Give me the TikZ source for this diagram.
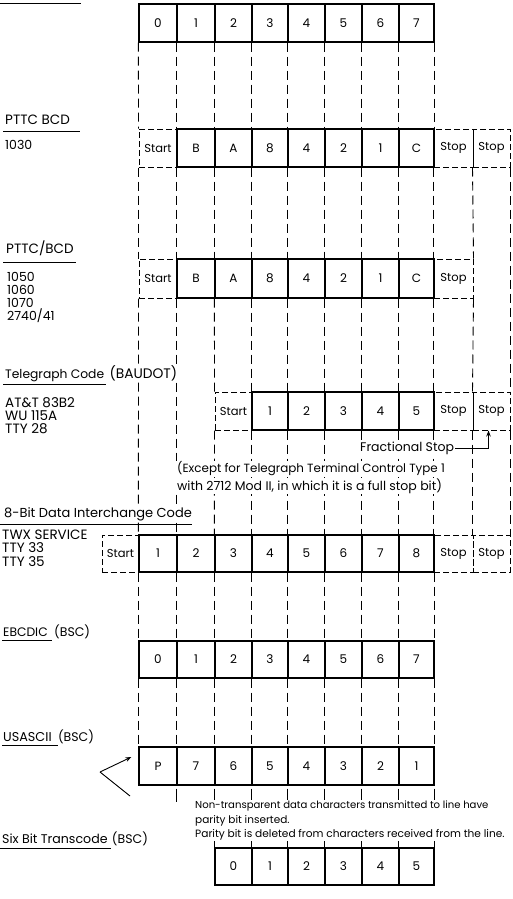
\documentclass[tikz,border=0pt]{standalone}
\usepackage{fontspec}
\setmainfont{Poppins}
\usetikzlibrary{arrows.meta,calc}
\newcommand\fsz[1]{\fontsize{#1}{#1}\selectfont}
\newcommand\mycell[7]{%
  \pgfmathsetmacro\cw{#4-#3}\pgfmathsetmacro\ch{#6-#5}%
  \node[#1, minimum width=\cw pt, minimum height=\ch pt] (#2) at ({(#3+#4)/2},{(#5+#6)/2}) {#7};}
\tikzset{
  cell/.style={draw, line width=1.2pt, inner sep=0pt, font=\fsz{12}},
  dcell/.style={draw, line width=1pt, dash pattern=on 6pt off 3pt, inner sep=0pt, font=\fsz{11.5}},
  guide/.style={line width=0.9pt, dash pattern=on 9pt off 5pt},
  short/.style={line width=0.9pt},
  lbl/.style={anchor=west, inner sep=0pt, font=\fsz{13.5}},
  num/.style={anchor=west, inner sep=0pt, font=\fsz{12.5}},
  note/.style={anchor=west, inner sep=1pt, fill=white, font=\fsz{12.5}},
  uline/.style={line width=0.9pt},
  tip/.style={-{Stealth[length=6pt,width=4.5pt]}, line width=0.9pt}
}
\begin{document}
\begin{tikzpicture}[x=1pt,y=-1pt]
\useasboundingbox (0,0) rectangle (512,899);
% boundaries
\def\bA{102}\def\bB{139}\def\bC{177}\def\bD{215}\def\bE{252}\def\bF{288}
\def\bG{325}\def\bH{362}\def\bI{399}\def\bJ{434}\def\bK{473}\def\bL{510}
% ---------- top row
\mycell{cell}{T1}{\bB}{\bC}{4}{42}{0}
\mycell{cell}{T2}{\bC}{\bD}{4}{42}{1}
\mycell{cell}{T3}{\bD}{\bE}{4}{42}{2}
\mycell{cell}{T4}{\bE}{\bF}{4}{42}{3}
\mycell{cell}{T5}{\bF}{\bG}{4}{42}{4}
\mycell{cell}{T6}{\bG}{\bH}{4}{42}{5}
\mycell{cell}{T7}{\bH}{\bI}{4}{42}{6}
\mycell{cell}{T8}{\bI}{\bJ}{4}{42}{7}
% ---------- PTTC BCD 1030
\mycell{dcell}{A1}{\bB}{\bC}{129}{167}{Start}
\mycell{dcell}{A9}{\bJ}{\bK}{129}{167}{Stop}
\mycell{dcell}{A10}{\bK}{\bL}{129}{167}{Stop}
\mycell{cell}{A2}{\bC}{\bD}{129}{167}{B}
\mycell{cell}{A3}{\bD}{\bE}{129}{167}{A}
\mycell{cell}{A4}{\bE}{\bF}{129}{167}{8}
\mycell{cell}{A5}{\bF}{\bG}{129}{167}{4}
\mycell{cell}{A6}{\bG}{\bH}{129}{167}{2}
\mycell{cell}{A7}{\bH}{\bI}{129}{167}{1}
\mycell{cell}{A8}{\bI}{\bJ}{129}{167}{C}
% ---------- PTTC/BCD
\mycell{dcell}{B1}{\bB}{\bC}{259}{298}{Start}
\mycell{dcell}{B9}{\bJ}{\bK}{259}{298}{Stop}
\mycell{cell}{B2}{\bC}{\bD}{259}{298}{B}
\mycell{cell}{B3}{\bD}{\bE}{259}{298}{A}
\mycell{cell}{B4}{\bE}{\bF}{259}{298}{8}
\mycell{cell}{B5}{\bF}{\bG}{259}{298}{4}
\mycell{cell}{B6}{\bG}{\bH}{259}{298}{2}
\mycell{cell}{B7}{\bH}{\bI}{259}{298}{1}
\mycell{cell}{B8}{\bI}{\bJ}{259}{298}{C}
% ---------- Telegraph
\mycell{dcell}{C3}{\bD}{\bE}{392}{430}{Start}
\mycell{dcell}{C9}{\bJ}{\bK}{392}{430}{Stop}
\mycell{dcell}{C10}{\bK}{\bL}{392}{430}{Stop}
\mycell{cell}{C4}{\bE}{\bF}{392}{430}{1}
\mycell{cell}{C5}{\bF}{\bG}{392}{430}{2}
\mycell{cell}{C6}{\bG}{\bH}{392}{430}{3}
\mycell{cell}{C7}{\bH}{\bI}{392}{430}{4}
\mycell{cell}{C8}{\bI}{\bJ}{392}{430}{5}
% ---------- 8-bit
\mycell{dcell}{D0}{\bA}{\bB}{535}{572}{Start}
\mycell{dcell}{D9}{\bJ}{\bK}{535}{572}{Stop}
\mycell{dcell}{D10}{\bK}{\bL}{535}{572}{Stop}
\mycell{cell}{D1}{\bB}{\bC}{535}{572}{1}
\mycell{cell}{D2}{\bC}{\bD}{535}{572}{2}
\mycell{cell}{D3}{\bD}{\bE}{535}{572}{3}
\mycell{cell}{D4}{\bE}{\bF}{535}{572}{4}
\mycell{cell}{D5}{\bF}{\bG}{535}{572}{5}
\mycell{cell}{D6}{\bG}{\bH}{535}{572}{6}
\mycell{cell}{D7}{\bH}{\bI}{535}{572}{7}
\mycell{cell}{D8}{\bI}{\bJ}{535}{572}{8}
% ---------- EBCDIC
\mycell{cell}{E1}{\bB}{\bC}{641}{678}{0}
\mycell{cell}{E2}{\bC}{\bD}{641}{678}{1}
\mycell{cell}{E3}{\bD}{\bE}{641}{678}{2}
\mycell{cell}{E4}{\bE}{\bF}{641}{678}{3}
\mycell{cell}{E5}{\bF}{\bG}{641}{678}{4}
\mycell{cell}{E6}{\bG}{\bH}{641}{678}{5}
\mycell{cell}{E7}{\bH}{\bI}{641}{678}{6}
\mycell{cell}{E8}{\bI}{\bJ}{641}{678}{7}
% ---------- USASCII
\mycell{cell}{F1}{\bB}{\bC}{747}{785}{P}
\mycell{cell}{F2}{\bC}{\bD}{747}{785}{7}
\mycell{cell}{F3}{\bD}{\bE}{747}{785}{6}
\mycell{cell}{F4}{\bE}{\bF}{747}{785}{5}
\mycell{cell}{F5}{\bF}{\bG}{747}{785}{4}
\mycell{cell}{F6}{\bG}{\bH}{747}{785}{3}
\mycell{cell}{F7}{\bH}{\bI}{747}{785}{2}
\mycell{cell}{F8}{\bI}{\bJ}{747}{785}{1}
% ---------- Six bit
\mycell{cell}{G3}{\bD}{\bE}{848}{885}{0}
\mycell{cell}{G4}{\bE}{\bF}{848}{885}{1}
\mycell{cell}{G5}{\bF}{\bG}{848}{885}{2}
\mycell{cell}{G6}{\bG}{\bH}{848}{885}{3}
\mycell{cell}{G7}{\bH}{\bI}{848}{885}{4}
\mycell{cell}{G8}{\bI}{\bJ}{848}{885}{5}
% ---------- guide lines
\foreach \k in {1,...,8} \draw[guide] (T\k.south west) -- (A\k.north west);
\draw[guide] (T8.south east) -- (A8.north east);
\foreach \k in {1,...,9} \draw[guide] (A\k.south west) -- (B\k.north west);
\draw[guide] (A10.south west) -- (B9.north east);
\draw[guide] (A10.south east) -- (C10.north east);
\draw[guide] (B1.south west) -- (D1.north west);
\draw[guide] (B2.south west) -- (D2.north west);
\foreach \k in {3,...,9} \draw[guide] (B\k.south west) -- (C\k.north west);
\draw[guide] (B9.south east) -- (C10.north west);
\foreach \k in {3,...,10} \draw[guide] (C\k.south west) -- (D\k.north west);
\draw[guide] (C10.south east) -- (D10.north east);
\foreach \k in {1,...,8} \draw[guide] (D\k.south west) -- (E\k.north west);
\draw[guide] (D8.south east) -- (E8.north east);
\foreach \k in {1,...,8} \draw[guide] (E\k.south west) -- (F\k.north west);
\draw[guide] (E8.south east) -- (F8.north east);
\coordinate (fnote) at (0,802);
\coordinate (gtop) at (0,837);
\foreach \k in {2,...,8} \draw[short, shorten <=3pt] (F\k.south west) -- (F\k.south west |- fnote);
\draw[short, shorten <=3pt] (F8.south east) -- (F8.south east |- fnote);
\foreach \k in {3,...,8} \draw[short] (G\k.north west |- gtop) -- (G\k.north west);
\draw[short] (G8.north east |- gtop) -- (G8.north east);
% ---------- notes over the guides
\node[note, font=\fsz{12.5}] (frac) at (359,448) {Fractional Stop};
\draw[tip] (frac.east) -| ([xshift=-3pt]C10.south);
\node[note, font=\fsz{11.9}] (exc1) at (176,469) {(Except for Telegraph Terminal Control Type 1};
\node[note, font=\fsz{12.5}] (exc2) at (176,486) {with 2712 Mod II, in which it is a full stop bit)};
\node[note, font=\fsz{10.1}] (nt1) at (194,806) {Non-transparent data characters transmitted to line have};
\node[note, font=\fsz{10.5}] (nt2) at (194,821) {parity bit inserted.};
\node[note, font=\fsz{10.6}] (nt3) at (194,835) {Parity bit is deleted from characters received from the line.};
\coordinate (vv) at (100,772);
\coordinate (vend) at (130,796);
\draw[tip] (vv) -- ($(F1.west)+(-7,-9)$);
\draw[short] (vv) -- (vend);
% ---------- left labels
\draw[uline] (0,3) -- (81,3);
\node[lbl] (h1) at (5,120) {PTTC BCD};
\draw[uline] (3,131) -- (80,131);
\node[num] (h1a) at (5,145) {1030};
\node[lbl] (h2) at (6,248) {PTTC/BCD};
\draw[uline] (3,262) -- (76,262);
\node[num] (h2a) at (7,277) {1050};
\node[num] (h2b) at (7,290) {1060};
\node[num] (h2c) at (7,303) {1070};
\node[num] (h2d) at (7,316) {2740/41};
\node[lbl, font=\fsz{12.3}] (h3) at (5,376) {Telegraph Code};
\node[lbl, font=\fsz{13.8}, anchor=base west, fill=white, inner sep=1pt] (h3p) at ([xshift=4pt]h3.base east) {(BAUDOT)};
\draw[uline] (3,384) -- (106,384);
\node[lbl] (h3a) at (5,403) {AT\&T 83B2};
\node[lbl] (h3b) at (5,416) {WU 115A};
\node[lbl] (h3c) at (5,429) {TTY 28};
\node[lbl, font=\fsz{13}, fill=white, inner sep=1pt] (h4) at (3,514) {8-Bit Data Interchange Code};
\draw[uline] (0,524) -- (192,524);
\node[lbl] (h4a) at (2,535) {TWX SERVICE};
\node[lbl] (h4b) at (2,548) {TTY 33};
\node[lbl] (h4c) at (2,562) {TTY 35};
\node[lbl, font=\fsz{12.3}] (h5) at (3,632) {EBCDIC};
\node[lbl, font=\fsz{12.5}, anchor=base west] (h5p) at ([xshift=6pt]h5.base east) {(BSC)};
\draw[uline] (2,640) -- (52,640);
\node[lbl, font=\fsz{12.8}] (h6) at (3,737) {USASCII};
\node[lbl, font=\fsz{12.5}, anchor=base west] (h6p) at ([xshift=6pt]h6.base east) {(BSC)};
\draw[uline] (2,745) -- (58,745);
\node[lbl, font=\fsz{12.6}] (h7) at (2,839) {Six Bit Transcode};
\node[lbl, font=\fsz{12.5}, anchor=base west] (h7p) at ([xshift=4pt]h7.base east) {(BSC)};
\draw[uline] (0,848) -- (111,848);
\end{tikzpicture}
\end{document}
